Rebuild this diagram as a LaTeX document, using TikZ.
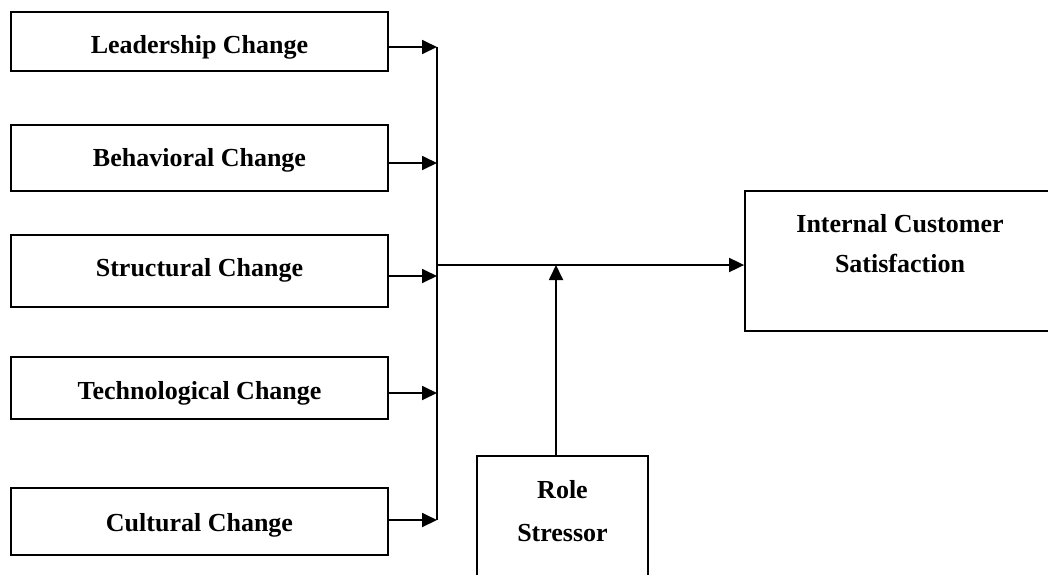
\documentclass[tikz,border=0pt]{standalone}
\usepackage{fontspec}
\setmainfont{Liberation Serif}
\usetikzlibrary{arrows.meta}
\tikzset{
  box/.style={draw, line width=1.8pt, rectangle, inner sep=0pt},
  lbl/.style={inner sep=0pt, anchor=base, font=\fontsize{26}{30}\selectfont\bfseries},
  conn/.style={line width=1.8pt},
  arr/.style={line width=1.8pt, -{Triangle[length=15pt,width=14pt]}}
}
\begin{document}
\begin{tikzpicture}[x=1pt,y=-1pt]
\useasboundingbox (0,0) rectangle (1048,574);
\fill[white] (0,0) rectangle (1048,574);
\clip (0,0) rectangle (1048,574);
% left boxes
\node[box, minimum width=377pt, minimum height=59pt] (L) at (199.5,41.5) {};
\node[box, minimum width=377pt, minimum height=66pt] (B) at (199.5,158) {};
\node[box, minimum width=377pt, minimum height=72pt] (S) at (199.5,271) {};
\node[box, minimum width=377pt, minimum height=62pt] (T) at (199.5,388) {};
\node[box, minimum width=377pt, minimum height=67pt] (C) at (199.5,521.5) {};
\node[lbl] (Lt) at (199.5,53) {Leadership Change};
\node[lbl] (Bt) at (199.5,166.5) {Behavioral Change};
\node[lbl] (St) at (199.5,276) {Structural Change};
\node[lbl] (Tt) at (199.5,399.5) {Technological Change};
\node[lbl] (Ct) at (199.5,531) {Cultural Change};
% right boxes
\node[box, minimum width=310pt, minimum height=140pt] (I) at (900,261) {};
\node[lbl] (It1) at (900,232) {Internal Customer};
\node[lbl] (It2) at (900,272) {Satisfaction};
\node[box, minimum width=171pt, minimum height=150pt] (R) at (562.5,531) {};
\node[lbl] (Rt1) at (562.5,498) {Role};
\node[lbl] (Rt2) at (562.5,541) {Stressor};
% bus junctions
\coordinate (j1) at (437,47);
\coordinate (j2) at (437,163);
\coordinate (j3) at (437,276);
\coordinate (j4) at (437,393);
\coordinate (j5) at (437,520);
\coordinate (jm) at (437,265);
\coordinate (m) at (556,265);
% arrows into bus
\draw[arr] (L.east |- j1) -- (j1);
\draw[arr] (B.east |- j2) -- (j2);
\draw[arr] (S.east |- j3) -- (j3);
\draw[arr] (T.east |- j4) -- (j4);
\draw[arr] (C.east |- j5) -- (j5);
% bus
\draw[conn] (j1) -- (j5);
% main line
\draw[arr] (jm) -- (jm -| I.west);
% role stressor arrow
\draw[arr] (R.north -| m) -- (m);
\end{tikzpicture}
\end{document}
